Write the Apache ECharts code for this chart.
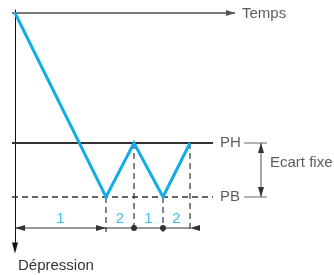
<!DOCTYPE html>
<html>
<head>
<meta charset="utf-8">
<script src="https://cdn.jsdelivr.net/npm/echarts@6/dist/echarts.min.js"></script>
<style>
  html, body { margin: 0; padding: 0; background: #fff; }
  #chart { width: 334px; height: 275px; }
</style>
</head>
<body>
<div id="chart"></div>
<script>
// cycle de régulation : temps (unités arbitraires) / dépression (axe vers le bas)
const cycleTimes = [0, 9.1, 11.9, 14.8, 17.5];
const cycleDepression = [0, 18.4, 13.0, 18.4, 13.0];
const levelNames = ['PH', 'PB'];
const levelValues = [13.0, 18.4];
const phaseLabels = ['1', '2', '1', '2'];
const gapLabel = 'Ecart fixe';
const axisNames = ['Temps', 'Dépression'];

// repères de mise en page (unités des axes)
const xMin = -0.3, xMax = 32;
const yMin = -0.3, yMax = 23.5;
const timeAxisEnd = 22.0;
const timeLabelX = 22.7;
const levelLineEnd = 19.8;
const levelLabelX = 20.5;
const dimLevel = 21.5;
const dimBottom = 21.9;
const phaseLabelY = 20.6;
const gapTickX = [22.9, 25.2];
const gapArrowX = 24.6;
const gapLabelPos = [25.5, 15.0];

const BLUE = '#12ade8';
const DARK = '#333';
const FONT = '"Liberation Sans", Arial, sans-serif';

const chart = echarts.init(document.getElementById('chart'), null, { renderer: 'canvas' });

const arrow = (rot, off, size) => ({
  symbol: 'triangle', symbolSize: size || [6, 10], symbolRotate: rot, symbolOffset: off,
});

const segment = (data, lineStyle) => ({
  type: 'line', clip: false, silent: true, symbol: 'none', data, lineStyle,
});

const levelSeries = levelValues.map((v, i) =>
  segment([[xMin, v], [levelLineEnd, v]], {
    color: DARK, width: i === 0 ? 1.8 : 1.3, type: i === 0 ? 'solid' : [6, 4],
  }));

const dropSeries = cycleTimes.slice(1).map((t, i) =>
  segment([[t, cycleDepression[i + 1]], [t, dimBottom]], { color: DARK, width: 1.2, type: [6, 4] }));

const gapTickSeries = levelValues.map((v) =>
  segment([[gapTickX[0], v], [gapTickX[1], v]], { color: '#666', width: 1 }));

const timeAxisSeries = {
  type: 'line', clip: false, silent: true,
  itemStyle: { color: '#555' },
  lineStyle: { color: '#7a7a7a', width: 1.8 },
  data: [
    { value: [xMin, 0], symbol: 'none' },
    { value: [timeAxisEnd, 0], ...arrow(-90, [-4.5, 0], [6, 9]) },
  ],
};

const dimSeries = {
  type: 'line', clip: false, silent: true,
  itemStyle: { color: DARK },
  lineStyle: { color: DARK, width: 1.2 },
  data: [
    { value: [cycleTimes[0], dimLevel], ...arrow(90, [5, 0]) },
    { value: [cycleTimes[1], dimLevel], ...arrow(-90, [-5, 0]) },
    { value: [cycleTimes[2], dimLevel], symbol: 'circle', symbolSize: 6 },
    { value: [cycleTimes[3], dimLevel], symbol: 'circle', symbolSize: 6 },
    { value: [cycleTimes[4], dimLevel], ...arrow(90, [5, 0]) },
  ],
};

const gapArrowSeries = {
  type: 'line', clip: false, silent: true,
  itemStyle: { color: DARK },
  lineStyle: { color: '#555', width: 1 },
  data: [
    { value: [gapArrowX, levelValues[0]], ...arrow(0, [0, 5]) },
    { value: [gapArrowX, levelValues[1]], ...arrow(180, [0, -5]) },
  ],
};

const textSeries = (data, color, align) => ({
  type: 'scatter', clip: false, silent: true, symbolSize: 0,
  data,
  label: {
    show: true, position: 'inside', align, verticalAlign: 'middle',
    color, fontSize: 15, fontFamily: FONT,
    formatter: (p) => p.data[2],
  },
});

const phaseData = phaseLabels.map((s, i) => [(cycleTimes[i] + cycleTimes[i + 1]) / 2, phaseLabelY, s]);
const levelLabelData = levelNames.map((s, i) => [levelLabelX, levelValues[i], s]);

chart.setOption({
  animation: false,
  grid: { left: 12, top: 10, width: (xMax - xMin) * 10, height: (yMax - yMin) * 10, outerBoundsMode: 'none' },
  xAxis: {
    type: 'value', min: xMin, max: xMax,
    axisLine: { show: false, onZero: true },
    axisTick: { show: false }, axisLabel: { show: false }, splitLine: { show: false },
  },
  yAxis: {
    type: 'value', min: yMin, max: yMax, inverse: true,
    name: axisNames[1], nameLocation: 'end', nameGap: 10,
    nameTextStyle: { color: DARK, fontSize: 15, fontFamily: FONT, align: 'left', verticalAlign: 'top', padding: [0, 0, 0, 3] },
    axisLine: { onZero: true, symbol: ['triangle', 'none'], symbolSize: [6, 11], lineStyle: { color: '#111', width: 1 } },
    axisTick: { show: false }, axisLabel: { show: false }, splitLine: { show: false },
  },
  series: [
    timeAxisSeries,
    ...levelSeries,
    ...dropSeries,
    ...gapTickSeries,
    dimSeries,
    gapArrowSeries,
    {
      type: 'line', clip: false, silent: true, symbol: 'none',
      data: cycleTimes.map((t, i) => [t, cycleDepression[i]]),
      lineStyle: { color: BLUE, width: 3, join: 'miter' },
    },
    textSeries(phaseData, BLUE, 'center'),
    textSeries(levelLabelData, DARK, 'left'),
    textSeries([[gapLabelPos[0], gapLabelPos[1], gapLabel], [timeLabelX, 0.1, axisNames[0]]], DARK, 'left'),
  ],
});
</script>
</body>
</html>
